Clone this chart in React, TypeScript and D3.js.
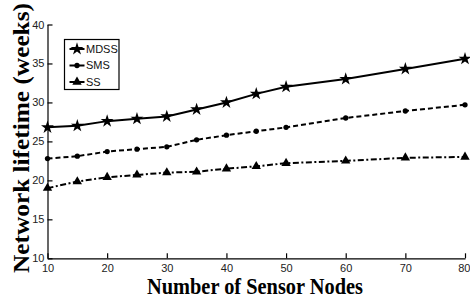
import { useEffect, useRef } from 'react';
import * as d3 from 'd3';

// nombre de capteurs
const nodes = [10, 15, 20, 25, 30, 35, 40, 45, 50, 60, 70, 80];
const mdss = [26.8, 27.0, 27.6, 27.9, 28.2, 29.1, 30.0, 31.1, 32.0, 33.0, 34.3, 35.6];
const sms = [22.8, 23.1, 23.7, 24.0, 24.3, 25.2, 25.8, 26.3, 26.8, 28.0, 28.9, 29.7];
const ss = [19.0, 19.85, 20.4, 20.7, 21.0, 21.1, 21.5, 21.8, 22.2, 22.5, 22.9, 23.0];
const xTicks = [10, 20, 30, 40, 50, 60, 70, 80];
const yTicks = [10, 15, 20, 25, 30, 35, 40];
const seriesNames = ['MDSS', 'SMS', 'SS'];

const W = 470;
const H = 302;

const App = () => {
  const svgRef = useRef<SVGSVGElement>(null);

  useEffect(() => {
    if (!svgRef.current) return;
    const svg = d3.select(svgRef.current);
    svg.selectAll('*').remove();

    const x = d3.scaleLinear().domain([10, 80]).range([47.5, 465]);
    const y = d3.scaleLinear().domain([10, 40]).range([258.3, 24.5]);

    const series = [
      { name: seriesNames[0], values: mdss, dash: null, symbol: d3.symbolStar, size: 52 },
      { name: seriesNames[1], values: sms, dash: '5,3', symbol: d3.symbolCircle, size: 22 },
      { name: seriesNames[2], values: ss, dash: '6,2.5,2,2.5', symbol: d3.symbolTriangle, size: 38 },
    ];

    // axes
    const xAxis = svg.append('g')
      .attr('transform', `translate(0,${y(10)})`)
      .call(d3.axisBottom(x).tickValues(xTicks).tickSizeInner(-5).tickSizeOuter(0).tickPadding(6));
    const yAxis = svg.append('g')
      .attr('transform', `translate(${x(10)},0)`)
      .call(d3.axisLeft(y).tickValues(yTicks).tickSizeInner(-5).tickSizeOuter(0).tickPadding(3));

    [xAxis, yAxis].forEach(a => {
      a.select('.domain').attr('stroke', '#000').attr('stroke-width', 1.2);
      a.selectAll('.tick line').attr('stroke', '#000').attr('stroke-width', 1.2);
      a.selectAll('.tick text')
        .attr('fill', '#222')
        .style('font-family', '"Liberation Sans", Arial, sans-serif')
        .style('font-size', '11px');
    });
    // le dernier libellé touche le bord droit
    xAxis.selectAll<SVGTextElement, number>('.tick text')
      .filter(d => d === 80)
      .attr('text-anchor', 'end')
      .attr('x', 5);

    const line = d3.line<number>()
      .x((_, i) => x(nodes[i]))
      .y(d => y(d));

    series.forEach(s => {
      svg.append('path')
        .datum(s.values)
        .attr('d', line)
        .attr('fill', 'none')
        .attr('stroke', '#000')
        .attr('stroke-width', 2)
        .attr('stroke-dasharray', s.dash);

      svg.selectAll(null)
        .data(s.values)
        .enter()
        .append('path')
        .attr('d', d3.symbol().type(s.symbol).size(s.size)())
        .attr('transform', (d, i) => `translate(${x(nodes[i])},${y(d)})`)
        .attr('fill', '#000');
    });

    // légende
    const lg = svg.append('g').attr('transform', 'translate(64.5,39.5)');
    lg.append('rect')
      .attr('width', 54.5)
      .attr('height', 50)
      .attr('fill', '#fff')
      .attr('stroke', '#000')
      .attr('stroke-width', 1.2);
    series.forEach((s, i) => {
      const ly = 9.5 + i * 16.5;
      lg.append('line')
        .attr('x1', 5).attr('x2', 20)
        .attr('y1', ly).attr('y2', ly)
        .attr('stroke', '#000')
        .attr('stroke-width', 2);
      lg.append('path')
        .attr('d', d3.symbol().type(s.symbol).size(s.size)())
        .attr('transform', `translate(12.5,${ly})`)
        .attr('fill', '#000');
      lg.append('text')
        .attr('x', 21.5)
        .attr('y', ly)
        .attr('dy', '0.36em')
        .style('font-family', '"Liberation Sans", Arial, sans-serif')
        .style('font-size', '11px')
        .attr('fill', '#111')
        .text(s.name);
    });

    // titres
    svg.append('text')
      .attr('x', 255)
      .attr('y', 294)
      .attr('text-anchor', 'middle')
      .style('font-family', '"Liberation Serif", "Times New Roman", serif')
      .style('font-weight', 'bold')
      .style('font-size', '23px')
      .attr('textLength', 216)
      .attr('lengthAdjust', 'spacingAndGlyphs')
      .text('Number of Sensor Nodes');

    svg.append('text')
      .attr('transform', 'translate(29,138) rotate(-90)')
      .attr('text-anchor', 'middle')
      .style('font-family', '"Liberation Serif", "Times New Roman", serif')
      .style('font-weight', 'bold')
      .style('font-size', '23px')
      .attr('textLength', 270)
      .attr('lengthAdjust', 'spacingAndGlyphs')
      .text('Network lifetime (weeks)');
  }, []);

  return (
    <svg
      ref={svgRef}
      width={W}
      height={H}
      style={{ position: 'absolute', left: 0, top: 0, background: '#fff' }}
    />
  );
};

export default App;
